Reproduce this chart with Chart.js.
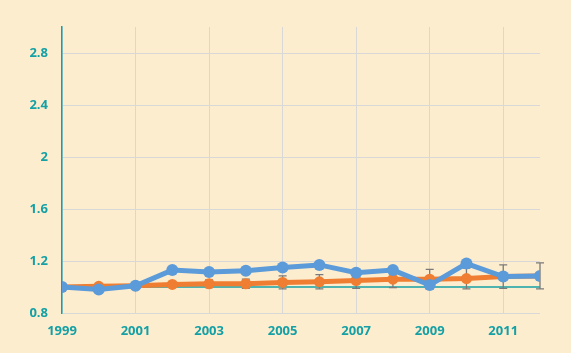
<!DOCTYPE html>
<html>
<head>
<meta charset="utf-8">
<script src="https://cdn.jsdelivr.net/npm/chart.js@4/dist/chart.umd.min.js"></script>
<style>
  html, body { margin: 0; padding: 0; background: #fdedcf; }
  #wrap { width: 571px; height: 353px; }
</style>
</head>
<body>
<div id="wrap"><canvas id="chart" width="571" height="353"></canvas></div>
<script>
const years = [1999, 2000, 2001, 2002, 2003, 2004, 2005, 2006, 2007, 2008, 2009, 2010, 2011, 2012];
const blueValues = [1.0, 0.98, 1.01, 1.13, 1.115, 1.125, 1.15, 1.17, 1.11, 1.13, 1.015, 1.18, 1.08, 1.085];
const orangeValues = [1.0, 1.005, 1.01, 1.02, 1.025, 1.025, 1.035, 1.04, 1.05, 1.06, 1.06, 1.065, 1.08, 1.085];
const orangeErrors = [0, 0.005, 0.01, 0.015, 0.03, 0.035, 0.05, 0.055, 0.06, 0.065, 0.075, 0.08, 0.09, 0.1];
const xTicks = [1999, 2001, 2003, 2005, 2007, 2009, 2011];
const yTicks = [0.8, 1.2, 1.6, 2, 2.4, 2.8];
const refValue = 1;

const teal = "#14a0a5";

// reference line at 1 and error bars on the orange series
const extras = {
  id: "extras",
  beforeDatasetsDraw(chart) {
    const ctx = chart.ctx;
    const x = chart.scales.x;
    const y = chart.scales.y;
    ctx.save();
    ctx.strokeStyle = teal;
    ctx.lineWidth = 1.5;
    ctx.beginPath();
    ctx.moveTo(x.getPixelForValue(years[0]), y.getPixelForValue(refValue));
    ctx.lineTo(x.getPixelForValue(years[years.length - 1]), y.getPixelForValue(refValue));
    ctx.stroke();

    ctx.strokeStyle = "#7a7a7a";
    ctx.lineWidth = 1.3;
    years.forEach((yr, i) => {
      const e = orangeErrors[i];
      if (!e) return;
      const px = x.getPixelForValue(yr);
      const top = y.getPixelForValue(orangeValues[i] + e);
      const bot = y.getPixelForValue(orangeValues[i] - e);
      ctx.beginPath();
      ctx.moveTo(px, top);
      ctx.lineTo(px, bot);
      ctx.moveTo(px - 4, top);
      ctx.lineTo(px + 4, top);
      ctx.moveTo(px - 4, bot);
      ctx.lineTo(px + 4, bot);
      ctx.stroke();
    });
    ctx.restore();
  }
};

const tickFont = { family: "'Open Sans', 'Noto Sans', sans-serif", size: 13, weight: "bold" };

new Chart(document.getElementById("chart"), {
  type: "line",
  data: {
    datasets: [
      {
        data: years.map((yr, i) => ({ x: yr, y: blueValues[i] })),
        borderColor: "#5b9bd9",
        backgroundColor: "#5b9bd9",
        borderWidth: 5,
        pointRadius: 6,
        pointBorderWidth: 0,
        tension: 0
      },
      {
        data: years.map((yr, i) => ({ x: yr, y: orangeValues[i] })),
        borderColor: "#ef7d32",
        backgroundColor: "#ef7d32",
        borderWidth: 5,
        pointRadius: 5.5,
        pointBorderWidth: 0,
        tension: 0
      }
    ]
  },
  options: {
    responsive: false,
    animation: false,
    layout: { padding: { top: 27, right: 31, left: 0, bottom: 0 } },
    plugins: { legend: { display: false }, tooltip: { enabled: false } },
    scales: {
      x: {
        type: "linear",
        min: 1999,
        max: 2012,
        afterBuildTicks: (scale) => { scale.ticks = xTicks.map((v) => ({ value: v })); },
        afterFit: (scale) => { scale.height = 40; },
        border: { display: false },
        grid: { color: "#d8d8d8", lineWidth: 1, drawTicks: false },
        ticks: { color: teal, font: tickFont, padding: 10, maxRotation: 0, callback: (v) => String(v) }
      },
      y: {
        min: 0.8,
        max: 3.0,
        afterBuildTicks: (scale) => { scale.ticks = yTicks.map((v) => ({ value: v })); },
        afterFit: (scale) => { scale.width = 62; },
        border: { display: true, color: teal, width: 1.5 },
        grid: { color: "#d8d8d8", lineWidth: 1, drawTicks: false },
        ticks: { color: teal, font: tickFont, padding: 14, callback: (v) => String(v) }
      }
    }
  },
  plugins: [extras]
});
</script>
</body>
</html>
